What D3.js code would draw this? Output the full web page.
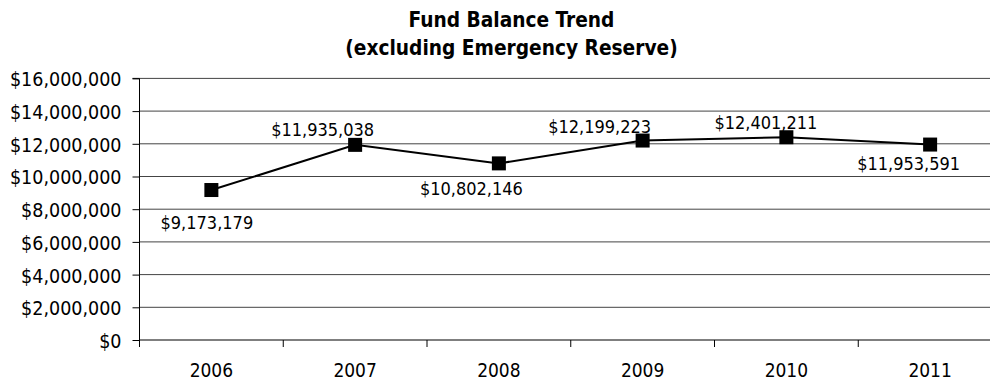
<!DOCTYPE html>
<html>
<head>
<meta charset="utf-8">
<script src="https://cdn.jsdelivr.net/npm/d3@7"></script>
<style>
  html, body { margin: 0; padding: 0; background: #fff; }
  svg { display: block; }
  text { font-family: "DejaVu Sans Condensed", "DejaVu Sans", sans-serif; fill: #000; }
</style>
</head>
<body>
<svg id="chart" width="990" height="381"></svg>
<script>
// Fund balance by fiscal year
const years = ["2006", "2007", "2008", "2009", "2010", "2011"];
const balances = [9173179, 11935038, 10802146, 12199223, 12401211, 11953591];
const yTicks = [0, 2000000, 4000000, 6000000, 8000000, 10000000, 12000000, 14000000, 16000000];
const titleLines = ["Fund Balance Trend", "(excluding Emergency Reserve)"];

// where each value label sits relative to its marker (dx, baseline dy)
const labelOffsets = [[-4.5, 39], [-32.5, -9], [-27.5, 31.5], [-43, -8], [-20.5, -8], [-21.5, 25.5]];

const svg = d3.select("#chart");
const margin = { left: 139.5, right: 1002, top: 78.4, bottom: 340 };

const x = d3.scaleBand().domain(years).range([margin.left, margin.right]);
const y = d3.scaleLinear().domain([0, 16000000]).range([margin.bottom, margin.top]);
const money = d3.format("$,");

// title
svg.append("g").selectAll("text").data(titleLines).join("text")
  .attr("x", 511.5)
  .attr("y", (d, i) => 27 + i * 28)
  .attr("text-anchor", "middle")
  .style("font-weight", "bold")
  .style("font-size", "20.7px")
  .text(d => d);

// horizontal gridlines
svg.append("g").selectAll("line").data(yTicks.filter(t => t > 0)).join("line")
  .attr("x1", margin.left).attr("x2", 990)
  .attr("y1", d => y(d)).attr("y2", d => y(d))
  .attr("stroke", "#444").attr("stroke-width", 1);

// y axis
const yAxis = svg.append("g")
  .attr("transform", `translate(${margin.left},0)`)
  .call(d3.axisLeft(y).tickValues(yTicks).tickFormat(money).tickSize(7).tickPadding(11));
yAxis.select(".domain").attr("stroke", "#000").attr("d", `M-7,${y(16000000)}H0V${y(0)}`);
yAxis.selectAll(".tick line").attr("stroke", "#000");
yAxis.selectAll(".tick text")
  .style("font-size", "19.5px")
  .style("font-family", '"DejaVu Sans Condensed", "DejaVu Sans", sans-serif')
  .attr("fill", "#000")
  .attr("dy", "0.38em");

// x axis with ticks between categories
const xAxis = svg.append("g").attr("transform", `translate(0,${margin.bottom})`);
xAxis.append("line")
  .attr("x1", margin.left).attr("x2", 990)
  .attr("y1", 0).attr("y2", 0)
  .attr("stroke", "#000").attr("stroke-width", 1.2);
const bounds = years.map(d => x(d)).concat([margin.right]);
xAxis.selectAll("line.tk").data(bounds).join("line")
  .attr("class", "tk")
  .attr("x1", d => d).attr("x2", d => d)
  .attr("y1", 0).attr("y2", 7)
  .attr("stroke", "#000");
xAxis.selectAll("text").data(years).join("text")
  .attr("x", d => x(d) + x.bandwidth() / 2)
  .attr("y", 36.5)
  .attr("text-anchor", "middle")
  .style("font-size", "19px")
  .text(d => d);

// line and markers
const pts = years.map((yr, i) => ({ yr, v: balances[i], i }));
const cx = d => x(d.yr) + x.bandwidth() / 2;
svg.append("path")
  .datum(pts)
  .attr("fill", "none")
  .attr("stroke", "#000")
  .attr("stroke-width", 2)
  .attr("d", d3.line().x(cx).y(d => y(d.v)));

svg.append("g").selectAll("rect").data(pts).join("rect")
  .attr("x", d => cx(d) - 7)
  .attr("y", d => y(d.v) - 7)
  .attr("width", 14).attr("height", 14)
  .attr("fill", "#000");

// value labels
svg.append("g").selectAll("text").data(pts).join("text")
  .attr("x", d => cx(d) + labelOffsets[d.i][0])
  .attr("y", d => y(d.v) + labelOffsets[d.i][1])
  .attr("text-anchor", "middle")
  .style("font-size", "18px")
  .text(d => money(d.v));
</script>
</body>
</html>
